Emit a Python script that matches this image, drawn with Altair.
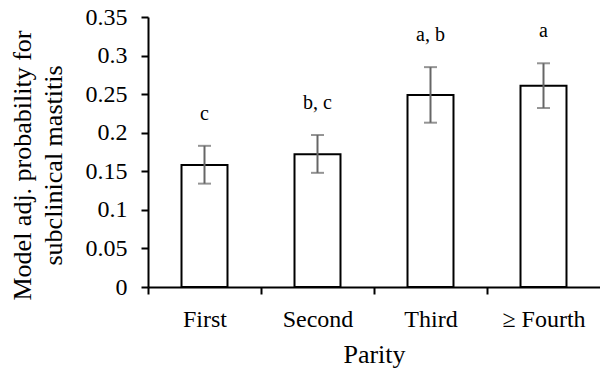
import altair as alt
import pandas as pd

categories = ["First", "Second", "Third", "\u2265 Fourth"]
probability = [0.158, 0.172, 0.249, 0.261]
lower = [0.134, 0.148, 0.213, 0.232]
upper = [0.183, 0.197, 0.285, 0.290]
letters = ["c", "b, c", "a, b", "a"]

df = pd.DataFrame({
    "parity": categories,
    "p": probability,
    "lo": lower,
    "hi": upper,
    "lab": letters,
})

FONT = "Liberation Serif"

x_axis = alt.Axis(
    title="Parity",
    labelAngle=0,
    bandPosition=0,
    tickOffset=-33.5,
    labelOffset=33.5,
    tickSize=7,
    tickWidth=2,
    domainWidth=2,
    labelPadding=13,
    titlePadding=10,
    labelOverlap=False,
    labelFontSize=24,
    titleFontSize=26,
)
x_scale = alt.Scale(paddingInner=0.593, paddingOuter=0.2965)

y_axis = alt.Axis(
    title=["Model adj. probability for", "subclinical mastitis"],
    values=[0, 0.05, 0.1, 0.15, 0.2, 0.25, 0.3, 0.35],
    format="~g",
    grid=False,
    tickSize=7,
    tickWidth=2,
    domainWidth=2,
    labelPadding=14,
    titlePadding=19,
    titleLineHeight=31,
    titleY=148,
    labelOverlap=False,
    labelFlush=False,
    labelFontSize=24,
    titleFontSize=26,
)
y_scale = alt.Scale(domain=[0, 0.35], nice=False)


def xenc():
    return alt.X("parity:N", sort=categories, scale=x_scale, axis=x_axis, title="Parity")


def yenc(field):
    return alt.Y(field, scale=y_scale, axis=y_axis)


bars = alt.Chart(df).mark_bar(
    fill="white", stroke="black", strokeWidth=2
).encode(x=xenc(), y=yenc("p:Q"))

err = alt.Chart(df).mark_rule(color="#666666", strokeWidth=2).encode(
    x=xenc(), y=yenc("lo:Q"), y2="hi:Q"
)

cap_lo = alt.Chart(df).mark_tick(
    color="#666666", thickness=2, size=13, orient="horizontal"
).encode(x=xenc(), y=yenc("lo:Q"))

cap_hi = alt.Chart(df).mark_tick(
    color="#666666", thickness=2, size=13, orient="horizontal"
).encode(x=xenc(), y=yenc("hi:Q"))

text = alt.Chart(df).mark_text(
    font=FONT, fontSize=20, color="black", baseline="alphabetic", dy=-26
).encode(x=xenc(), y=yenc("hi:Q"), text="lab:N")

chart = alt.layer(bars, err, cap_lo, cap_hi, text).properties(
    width=452,
    height=270,
    autosize=alt.AutoSizeParams(type="none"),
    padding={"left": 148, "top": 17, "right": 0, "bottom": 87},
    background="white",
).configure_view(
    stroke=None
).configure_axis(
    labelFont=FONT,
    titleFont=FONT,
    titleFontWeight="normal",
    labelColor="black",
    titleColor="black",
    domainColor="black",
    tickColor="black",
)

chart.save("out.html", embed_options={"renderer": "svg", "actions": False})
